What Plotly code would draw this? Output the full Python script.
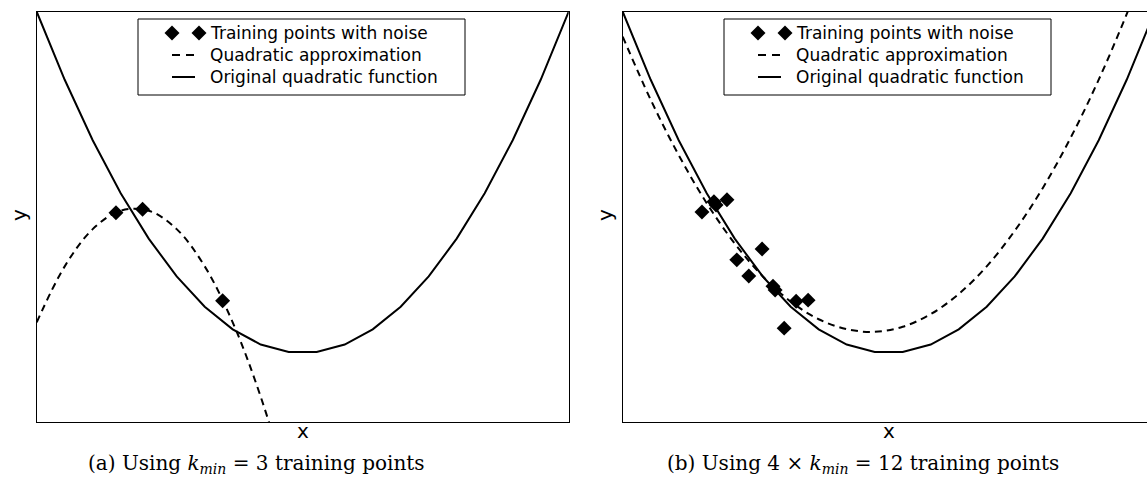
import plotly.graph_objects as go

W, H = 1147, 480

# Shared sample grid for the curves
x_grid = [-1.0, -0.8947, -0.7895, -0.6842, -0.5789, -0.4737, -0.3684, -0.2632, -0.1579, -0.0526,
          0.0526, 0.1579, 0.2632, 0.3684, 0.4737, 0.5789, 0.6842, 0.7895, 0.8947, 1.0]

# Original quadratic function
y_original = [1.0, 0.8006, 0.6233, 0.4681, 0.3352, 0.2244, 0.1357, 0.0693, 0.0249, 0.0028,
              0.0028, 0.0249, 0.0693, 0.1357, 0.2244, 0.3352, 0.4681, 0.6233, 0.8006, 1.0]

# Quadratic approximation fitted on 3 points (a) and on 12 points (b)
y_approx_a = [0.090, 0.254, 0.363, 0.417, 0.417, 0.363, 0.254, 0.090, -0.128, -0.401,
              -0.729, -1.117, -1.554, -2.045, -2.591, -3.191, -3.846, -4.556, -5.319, -6.138]
y_approx_b = [0.927, 0.742, 0.580, 0.439, 0.321, 0.225, 0.151, 0.099, 0.070, 0.062,
              0.077, 0.114, 0.173, 0.254, 0.358, 0.483, 0.631, 0.801, 0.993, 1.207]

# Noisy training points
train_x_a = [-0.702, -0.602, -0.301]
train_y_a = [0.411, 0.421, 0.153]
train_x_b = [-0.702, -0.657, -0.649, -0.608, -0.571, -0.526, -0.476, -0.435, -0.427, -0.393, -0.348, -0.303]
train_y_b = [0.413, 0.443, 0.434, 0.449, 0.273, 0.226, 0.305, 0.196, 0.185, 0.073, 0.152, 0.155]

legend_labels = ["Training points with noise", "Quadratic approximation", "Original quadratic function"]
captions = ["(a) Using <i>k</i><sub><i>min</i></sub> = 3 training points",
            "(b) Using 4 × <i>k</i><sub><i>min</i></sub> = 12 training points"]

DASH = "7px,5px"


def fx(px):
    return px / W


def fy(py):
    return 1 - py / H


fig = go.Figure()

panels = [
    ("x", "y", train_x_a, train_y_a, y_approx_a),
    ("x2", "y2", train_x_b, train_y_b, y_approx_b),
]
for xa, ya, tx, ty, yapp in panels:
    fig.add_trace(go.Scatter(x=x_grid, y=yapp, mode="lines", xaxis=xa, yaxis=ya,
                             line=dict(color="black", width=2, dash=DASH, shape="spline",
                                       smoothing=1.0),
                             showlegend=False))
    fig.add_trace(go.Scatter(x=x_grid, y=y_original, mode="lines", xaxis=xa, yaxis=ya,
                             line=dict(color="black", width=2), showlegend=False))
    fig.add_trace(go.Scatter(x=tx, y=ty, mode="markers", xaxis=xa, yaxis=ya,
                             marker=dict(symbol="diamond", size=11.5, color="black",
                                         line=dict(width=0)),
                             showlegend=False))

axis_common = dict(showgrid=False, zeroline=False, showticklabels=False, ticks="",
                   showline=True, linecolor="black", linewidth=1)

fig.update_layout(
    width=W, height=H,
    margin=dict(l=0, r=0, t=0, b=0),
    paper_bgcolor="white", plot_bgcolor="white",
    showlegend=False,
    xaxis=dict(domain=[fx(36.7), fx(568.7)], range=[-1, 1], mirror=True, anchor="y", **axis_common),
    yaxis=dict(domain=[fy(422), fy(11.7)], range=[-0.202, 1.0], mirror=True, anchor="x", **axis_common),
    xaxis2=dict(domain=[fx(622.7), 1.0], range=[-1, 0.971], mirror=True, anchor="y2", **axis_common),
    yaxis2=dict(domain=[fy(422), fy(11.7)], range=[-0.202, 1.0], mirror=False, anchor="x2", **axis_common),
)

shapes = []
annotations = []
for dx in (0, 586):
    # legend frame
    shapes.append(dict(type="rect", xref="paper", yref="paper",
                       x0=fx(138 + dx), x1=fx(465 + dx), y0=fy(95), y1=fy(19),
                       line=dict(color="black", width=1), fillcolor="white", layer="above"))
    # two diamonds for the training points entry
    for cx in (172, 199):
        shapes.append(dict(type="path", xref="paper", yref="paper",
                           xsizemode="pixel", ysizemode="pixel",
                           xanchor=fx(cx + dx), yanchor=fy(33),
                           path="M -7.5 0 L 0 7.5 L 7.5 0 L 0 -7.5 Z",
                           fillcolor="black", line=dict(width=0), layer="above"))
    shapes.append(dict(type="line", xref="paper", yref="paper",
                       x0=fx(172 + dx), x1=fx(195 + dx), y0=fy(55), y1=fy(55),
                       line=dict(color="black", width=2, dash="8px,6px"), layer="above"))
    shapes.append(dict(type="line", xref="paper", yref="paper",
                       x0=fx(172 + dx), x1=fx(195 + dx), y0=fy(77), y1=fy(77),
                       line=dict(color="black", width=2), layer="above"))
    for label, py in zip(legend_labels, (33, 55, 77)):
        annotations.append(dict(text=label, xref="paper", yref="paper",
                                x=fx(208 + dx), y=fy(py), xanchor="left", yanchor="middle",
                                showarrow=False,
                                font=dict(family="DejaVu Sans", size=17, color="black")))

# axis labels
for cx in (303, 889):
    annotations.append(dict(text="x", xref="paper", yref="paper", x=fx(cx), y=fy(431),
                            xanchor="center", yanchor="middle", showarrow=False,
                            font=dict(family="DejaVu Sans", size=20, color="black")))
for cx in (19, 605):
    annotations.append(dict(text="y", xref="paper", yref="paper", x=fx(cx), y=fy(215),
                            xanchor="center", yanchor="middle", showarrow=False, textangle=-90,
                            font=dict(family="DejaVu Sans", size=20, color="black")))

# sub-figure captions
for text, cx in zip(captions, (256.5, 862.5)):
    annotations.append(dict(text=text, xref="paper", yref="paper", x=fx(cx), y=fy(464),
                            xanchor="center", yanchor="middle", showarrow=False,
                            font=dict(family="DejaVu Serif", size=20, color="black")))

fig.update_layout(shapes=shapes, annotations=annotations)

fig.write_html("out.html")
